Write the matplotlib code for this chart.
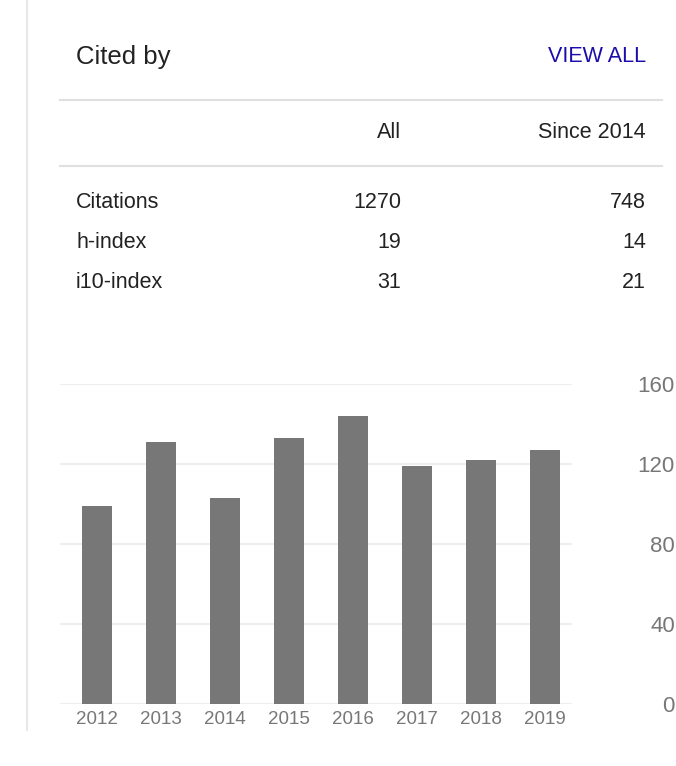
import matplotlib
matplotlib.use("Agg")
import matplotlib.pyplot as plt
from matplotlib.lines import Line2D

years = ["2012","2013","2014","2015","2016","2017","2018","2019"]
citations = [99, 131, 103, 133, 144, 119, 122, 127]
yticks = [0, 40, 80, 120, 160]
row_labels = ["Citations", "h-index", "i10-index"]
all_vals = ["1270", "19", "31"]
since_vals = ["748", "14", "21"]

W, H = 676, 766
fig = plt.figure(figsize=(W/100, H/100), dpi=100)
plt.rcParams["font.family"] = "Liberation Sans"

def T(x, y, s, **kw):
    fig.text(x/W, 1 - y/H, s, va="center", **kw)

def hline(x0, x1, y, c="#e0e0e0", lw=1.5):
    fig.add_artist(Line2D([x0/W, x1/W], [1-y/H, 1-y/H], color=c, lw=lw))

fig.add_artist(Line2D([27/W, 27/W], [1, 1-730/H], color="#e8e8e8", lw=1.5))
T(76, 57, "Cited by", fontsize=18.5, color="#222222")
T(646, 57, "VIEW ALL", fontsize=15.5, color="#1a0dab", ha="right")
hline(60, 662, 100)
T(401, 133, "All", fontsize=15.5, color="#222222", ha="right")
T(646, 133, "Since 2014", fontsize=15.5, color="#222222", ha="right")
hline(60, 662, 166)
for i, (lab, a, s) in enumerate(zip(row_labels, all_vals, since_vals)):
    y = 203 + 40*i
    T(76, y, lab, fontsize=15.5, color="#222222")
    T(401, y, a, fontsize=15.5, color="#222222", ha="right")
    T(646, y, s, fontsize=15.5, color="#222222", ha="right")

ax = fig.add_axes([60/W, 1-704/H, 512/W, 320/H])
ax.bar(range(len(years)), citations, width=30/64, color="#777777", zorder=2)
ax.set_xlim(-0.58, 7.42)
ax.set_ylim(0, 160)
for v in yticks:
    ax.axhline(v, color="#eeeeee", lw=1.5, zorder=1)
for sp in ax.spines.values():
    sp.set_visible(False)
ax.set_xticks(range(len(years)))
ax.set_xticklabels(years, fontsize=13.5, color="#777777")
ax.tick_params(length=0, pad=5)
ax.yaxis.tick_right()
ax.set_yticks(yticks)
ax.set_yticklabels([str(v) for v in yticks], fontsize=16, color="#777777", ha="right")
ax.tick_params(axis="y", pad=74)
fig.savefig("out.png", dpi=100)
